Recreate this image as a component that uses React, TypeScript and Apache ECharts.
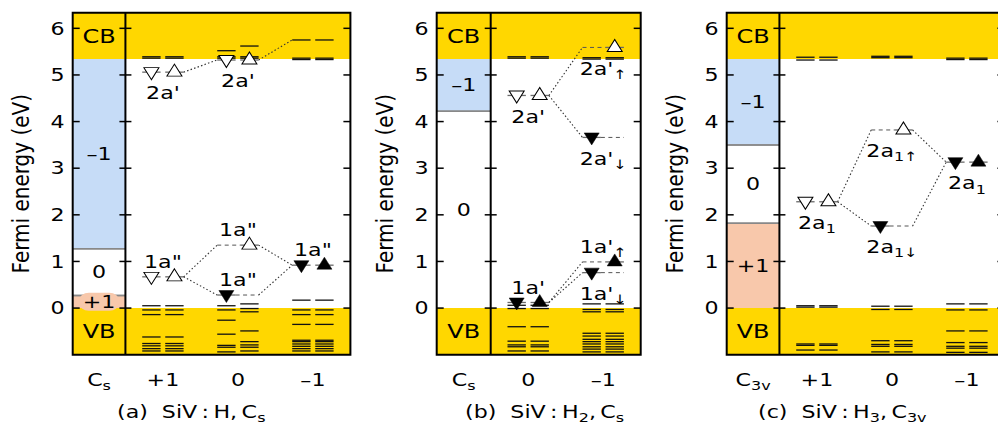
import React, { useEffect, useRef } from 'react';
import * as echarts from 'echarts';

const FONT = 'DejaVu Sans';
const YELLOW = '#ffd700';
const BLUE = '#c6dcf7';
const PINK = '#f8c8ab';
const Y_MIN = -1;
const Y_MAX = 6.335;
const CBM = 5.34;
const yTickValues = [0, 1, 2, 3, 4, 5, 6];
const yAxisName = 'Fermi energy (eV)';

// ---------- (a) SiV:H, Cs ----------
const aTitle: [string, number][] = [['(a)  SiV\u2009:\u2009H,\u2009C', 0], ['s', 1]];
const aGroup: [string, string] = ['C', 's'];
const aCharges = ['+1', '0', '–1'];
// charge-state regions of the Fermi level: [E low, E high, charge]
const aRegions: [number, number, string][] = [[1.27, 5.34, '–1'], [0.27, 1.27, '0'], [0, 0.27, '+1']];
// Kohn-Sham levels: [column, spin (0 down, 1 up, 2 both), energies]
const aLevels: [number, number, number[]][] = [
  [0, 2, [5.36, 5.39, 0.05, -0.04, -0.14, -0.62, -0.76, -0.81, -0.87, -0.92]],
  [1, 0, [5.52, 5.36, 5.39, 0.05, -0.04, -0.26, -0.56, -0.8, -0.84, -0.94]],
  [1, 1, [5.62, 5.36, 5.39, 0.09, -0.01, -0.08, -0.49, -0.72, -0.79, -0.84, -0.92]],
  [2, 2, [5.75, 5.33, 5.36, 0.17, -0.04, -0.14, -0.35, -0.69, -0.72, -0.77, -0.82, -0.87, -0.92]],
];
// defect levels: [column, spin, energy, occupied]
const aMarkers: [number, number, number, number][] = [
  [0, 0, 5.06, 0], [0, 1, 5.06, 0], [0, 0, 0.67, 0], [0, 1, 0.67, 0],
  [1, 0, 5.32, 0], [1, 1, 5.32, 0], [1, 1, 1.35, 0], [1, 0, 0.28, 1],
  [2, 0, 0.92, 1], [2, 1, 0.92, 1],
];
// connectors: [from column, E from, E to (next column)]
const aLinks: [number, number, number][] = [
  [0, 5.06, 5.32], [1, 5.32, 5.75], [0, 0.67, 1.35], [0, 0.67, 0.28], [1, 1.35, 0.92], [1, 0.28, 0.92],
];
// labels: [column, energy, main, subscript, place]
const aLabels: [number, number, string, string, string][] = [
  [0, 5.06, "2a'", '', 'below'], [1, 5.32, "2a'", '', 'below'],
  [0, 0.67, '1a"', '', 'above'], [1, 1.35, '1a"', '', 'above'],
  [1, 0.28, '1a"', '', 'above'], [2, 0.92, '1a"', '', 'above'],
];

// ---------- (b) SiV:H2, Cs ----------
const bTitle: [string, number][] = [['(b)  SiV\u2009:\u2009H', 0], ['2', 1], [',\u2009C', 0], ['s', 1]];
const bGroup: [string, string] = ['C', 's'];
const bCharges = ['0', '–1'];
const bRegions: [number, number, string][] = [[4.22, 5.34, '–1'], [0, 4.22, '0']];
const bLevels: [number, number, number[]][] = [
  [0, 2, [5.36, 5.39, 0.06, -0.01, -0.4, -0.71, -0.79, -0.83, -0.92]],
  [1, 2, [5.34, 5.37, 0.09, -0.03, -0.08, -0.54, -0.6, -0.67, -0.72, -0.77, -0.83, -0.88, -0.94]],
];
const bMarkers: [number, number, number, number][] = [
  [0, 0, 4.56, 0], [0, 1, 4.56, 0], [0, 0, 0.12, 1], [0, 1, 0.12, 1],
  [1, 1, 5.59, 0], [1, 0, 3.66, 1], [1, 1, 0.99, 1], [1, 0, 0.76, 1],
];
const bLinks: [number, number, number][] = [[0, 4.56, 5.59], [0, 4.56, 3.66], [0, 0.12, 0.99], [0, 0.12, 0.76]];
const bLabels: [number, number, string, string, string][] = [
  [0, 4.56, "2a'", '', 'below'], [1, 5.59, "2a'", '↑', 'below'], [1, 3.66, "2a'", '↓', 'below'],
  [0, 0.12, "1a'", '', 'above'], [1, 0.99, "1a'", '↑', 'above'], [1, 0.76, "1a'", '↓', 'below'],
];

// ---------- (c) SiV:H3, C3v ----------
const cTitle: [string, number][] = [['(c)  SiV\u2009:\u2009H', 0], ['3', 1], [',\u2009C', 0], ['3v', 1]];
const cGroup: [string, string] = ['C', '3v'];
const cCharges = ['+1', '0', '–1'];
const cRegions: [number, number, string][] = [[3.5, 5.34, '–1'], [1.82, 3.5, '0'], [0, 1.82, '+1']];
const cLevels: [number, number, number[]][] = [
  [0, 2, [5.38, 5.32, 0.05, 0.02, -0.77, -0.8, -0.9]],
  [1, 2, [5.37, 5.4, 0.04, -0.03, -0.7, -0.78, -0.82, -0.94]],
  [2, 2, [5.33, 5.36, 0.09, -0.04, -0.49, -0.74, -0.82, -0.86, -0.95]],
];
const cMarkers: [number, number, number, number][] = [
  [0, 0, 2.28, 0], [0, 1, 2.28, 0], [1, 1, 3.82, 0], [1, 0, 1.76, 1], [2, 0, 3.13, 1], [2, 1, 3.13, 1],
];
const cLinks: [number, number, number][] = [[0, 2.28, 3.82], [0, 2.28, 1.76], [1, 3.82, 3.13], [1, 1.76, 3.13]];
const cLabels: [number, number, string, string, string][] = [
  [0, 2.28, '2a', '1', 'below'], [1, 3.82, '2a', '1↑', 'below'],
  [1, 1.76, '2a', '1↓', 'below'], [2, 3.13, '2a', '1', 'below'],
];

// ---------- layout ----------
const GRID_TOP = 12.7;
const GRID_H = 342;
const SX = 1.23; // horizontal stretch of the lettering
const LAYOUT = [
  { left: 72.7, width: 277.7, xmin: -0.703, titleX: 117 },
  { left: 436.7, width: 204, xmin: -0.72, titleX: 465 },
  { left: 726.7, width: 277.7, xmin: -0.703, titleX: 758 },
];
const PANELS = [
  { title: aTitle, group: aGroup, charges: aCharges, regions: aRegions, levels: aLevels, markers: aMarkers, links: aLinks, labels: aLabels },
  { title: bTitle, group: bGroup, charges: bCharges, regions: bRegions, levels: bLevels, markers: bMarkers, links: bLinks, labels: bLabels },
  { title: cTitle, group: cGroup, charges: cCharges, regions: cRegions, levels: cLevels, markers: cMarkers, links: cLinks, labels: cLabels },
];

const D0 = 0.5 - 0.276, D1 = 0.5 - 0.031, U0 = 0.5 + 0.031, U1 = 0.5 + 0.276;
const span = (c: number, s: number) => (s === 0 ? [c + D0, c + D1] : [c + U0, c + U1]);

const LINE_STYLES: any[] = [
  { stroke: '#111', lineWidth: 1.3 },
  { stroke: '#6a6a6a', lineWidth: 1.3 },
  { stroke: '#555', lineWidth: 1, lineDash: [4, 3.5] },
  { stroke: '#333', lineWidth: 1.1, lineDash: [1.5, 2.2] },
  { stroke: '#888', lineWidth: 1.5 },
];
const BAND_COLORS = [YELLOW, BLUE, '#ffffff', PINK];
const regionColor = (q: string) => (q === '–1' ? 1 : q === '+1' ? 3 : 2);

const RICH_Z: any = {
  n: { fontSize: 18, fontFamily: FONT, lineHeight: 24, fill: '#000' },
  s: { fontSize: 13, fontFamily: FONT, lineHeight: 12, verticalAlign: 'bottom', fill: '#000' },
};
const richOf = (segs: [string, number][]) => segs.map(([t, sub]) => `{${sub ? 's' : 'n'}|${t}}`).join('');

function txt(x: number, y: number, text: string, o: any = {}) {
  const style: any = {
    text, rich: RICH_Z, fill: '#000', fontSize: o.fontSize ?? 18, fontFamily: FONT,
    align: o.align ?? 'center', verticalAlign: o.va ?? 'middle',
  };
  if (o.lineHeight) style.lineHeight = o.lineHeight;
  if (o.bg) { style.backgroundColor = o.bg; style.borderRadius = 8; style.padding = [0, 3]; }
  return { type: 'text', x, y, rotation: o.rotation ?? 0, scaleX: o.scaleX ?? SX, scaleY: o.scaleY ?? 1, style };
}

function buildOption() {
  const grid: any[] = [], xAxis: any[] = [], yAxis: any[] = [], series: any[] = [], graphic: any[] = [];
  PANELS.forEach((P, i) => {
    const L = LAYOUT[i];
    const ncol = P.charges.length;
    const xmin = L.xmin;
    const sc = xmin / 2;
    grid.push({ left: L.left, top: GRID_TOP, width: L.width, height: GRID_H, containLabel: false, outerBoundsMode: 'none' });
    xAxis.push({
      gridIndex: i, type: 'value', min: xmin, max: ncol,
      axisLine: { show: false }, axisTick: { show: false }, splitLine: { show: false }, axisLabel: { show: false },
    });
    yAxis.push({
      gridIndex: i, type: 'value', min: Y_MIN, max: Y_MAX, interval: 1,
      axisLine: { show: false }, axisTick: { show: false }, splitLine: { show: false }, axisLabel: { show: false },
    });

    // bands
    const bands: number[][] = [
      [xmin, ncol, CBM, Y_MAX, 0],
      [xmin, ncol, Y_MIN, 0, 0],
      ...P.regions.map(([lo, hi, q]) => [xmin, 0, lo, hi, regionColor(q)]),
    ];
    series.push({
      type: 'custom', xAxisIndex: i, yAxisIndex: i, z: 1, silent: true, clip: false, data: bands,
      renderItem: (_p: any, api: any) => {
        const a = api.coord([api.value(0), api.value(3)]);
        const b = api.coord([api.value(1), api.value(2)]);
        return { type: 'rect', shape: { x: a[0], y: a[1], width: b[0] - a[0], height: b[1] - a[1] }, style: { fill: BAND_COLORS[api.value(4)] } };
      },
    });

    // lines
    const lines: number[][] = [];
    P.regions.forEach(([lo, hi]) => {
      [lo, hi].forEach((e) => { if (e > 0 && e < CBM) lines.push([xmin, e, 0, e, 4]); });
    });
    P.levels.forEach(([c, s, es]) => es.forEach((e) => {
      (s === 2 ? [0, 1] : [s]).forEach((sp) => { const [x0, x1] = span(c, sp); lines.push([x0, e, x1, e, 0]); });
    }));
    P.markers.forEach(([c, s, e]) => {
      const [x0, x1] = span(c, s);
      lines.push([x0, e, x1, e, 1]);
      const partner = P.markers.some((m) => m[0] === c && m[1] !== s && m[2] === e);
      if (!partner) {
        if (s === 1) lines.push([c + D0, e, c + U0, e, 2]);
        else lines.push([c + D1, e, c + U1, e, 2]);
      }
    });
    P.links.forEach(([c, e0, e1]) => lines.push([c + U1, e0, c + 1 + D0, e1, 3]));
    series.push({
      type: 'custom', xAxisIndex: i, yAxisIndex: i, z: 2, silent: true, clip: false, data: lines,
      renderItem: (_p: any, api: any) => {
        const a = api.coord([api.value(0), api.value(1)]);
        const b = api.coord([api.value(2), api.value(3)]);
        return { type: 'line', shape: { x1: a[0], y1: a[1], x2: b[0], y2: b[1] }, style: LINE_STYLES[api.value(4)] };
      },
    });

    // markers
    series.push({
      type: 'scatter', xAxisIndex: i, yAxisIndex: i, z: 3, silent: true, symbol: 'triangle', symbolSize: [15, 12],
      data: P.markers.map(([c, s, e, f]) => ({
        value: [c + 0.5 + (s === 0 ? -0.1535 : 0.1535), e],
        symbolRotate: s === 0 ? 180 : 0,
        symbolOffset: [0, s === 0 ? 1.5 : -2],
        itemStyle: { color: f ? '#000' : '#fff', borderColor: '#000', borderWidth: f ? 0.5 : 1, opacity: 1 },
      })),
    });

    // in-plot texts
    const texts: any[] = [
      { x: sc, y: (CBM + Y_MAX) / 2, text: 'CB', place: 'center', size: 19.5 },
      { x: sc, y: -0.5, text: 'VB', place: 'center', size: 19.5 },
      ...P.regions.map(([lo, hi, q]) => ({ x: sc, y: (lo + hi) / 2, text: q, place: 'center', bg: hi - lo < 0.45 })),
      ...P.labels.map(([c, e, main, sub, place]) => ({ x: c + 0.5, y: e, text: `{n|${main}}` + (sub ? `{s|${sub}}` : ''), place })),
    ];
    series.push({
      type: 'custom', xAxisIndex: i, yAxisIndex: i, z: 4, silent: true, clip: false,
      data: texts.map((t) => [t.x, t.y]),
      renderItem: (params: any, api: any) => {
        const t = texts[params.dataIndex];
        const p = api.coord([t.x, t.y]);
        const dy = t.place === 'above' ? -15 : t.place === 'below' ? 21 : 0;
        if (t.bg) return txt(p[0], p[1] + dy, t.text, { lineHeight: 18, bg: PINK });
        return txt(p[0], p[1] + dy, t.text, { fontSize: t.size ?? 18 });
      },
    });

    // frame, ticks, tick labels, category labels, axis name
    series.push({
      type: 'custom', xAxisIndex: i, yAxisIndex: i, z: 5, silent: true, clip: false, data: [[xmin, ncol]],
      renderItem: (_p: any, api: any) => {
        const tl = api.coord([api.value(0), Y_MAX]);
        const br = api.coord([api.value(1), Y_MIN]);
        const dv = api.coord([0, Y_MIN])[0];
        const ln = (x1: number, y1: number, x2: number, y2: number, w = 1.5) => ({ type: 'line', shape: { x1, y1, x2, y2 }, style: { stroke: '#000', lineWidth: w } });
        const children: any[] = [
          { type: 'rect', shape: { x: tl[0], y: tl[1], width: br[0] - tl[0], height: br[1] - tl[1] }, style: { stroke: '#000', lineWidth: 2, fill: 'none' } },
          ln(dv, tl[1], dv, br[1], 2),
        ];
        yTickValues.forEach((v) => {
          const y = api.coord([0, v])[1];
          children.push(ln(tl[0], y, tl[0] + 7, y), ln(dv - 6, y, dv + 6, y), ln(br[0] - 7, y, br[0], y));
          children.push(txt(tl[0] - 8, y, String(v), { align: 'right' }));
        });
        const labY = br[1] + 13;
        children.push(txt(api.coord([sc, Y_MIN])[0], labY, `{n|${P.group[0]}}{s|${P.group[1]}}`, { va: 'top' }));
        P.charges.forEach((q, k) => {
          children.push(txt(api.coord([k + 0.5, Y_MIN])[0], labY, `{n|${q}}`, { va: 'top' }));
        });
        children.push(txt(tl[0] - 52, (tl[1] + br[1]) / 2, yAxisName, { fontSize: 20, rotation: Math.PI / 2, scaleX: 1, scaleY: 1.12 }));
        return { type: 'group', children };
      },
    });

    graphic.push({
      type: 'text', x: L.titleX, y: 412, silent: true, scaleX: SX,
      style: { text: richOf(P.title), rich: RICH_Z, fill: '#000', fontFamily: FONT, fontSize: 18, align: 'left', verticalAlign: 'middle' },
    });
  });
  return {
    animation: false,
    backgroundColor: '#ffffff',
    textStyle: { fontFamily: FONT },
    grid, xAxis, yAxis, series, graphic,
  };
}

export default function App() {
  const ref = useRef<HTMLDivElement>(null);
  useEffect(() => {
    const chart = echarts.init(ref.current!, null, { renderer: 'svg' });
    chart.setOption(buildOption() as any);
    return () => chart.dispose();
  }, []);
  return <div ref={ref} style={{ position: 'absolute', left: 0, top: 0, width: 998, height: 425 }} />;
}
